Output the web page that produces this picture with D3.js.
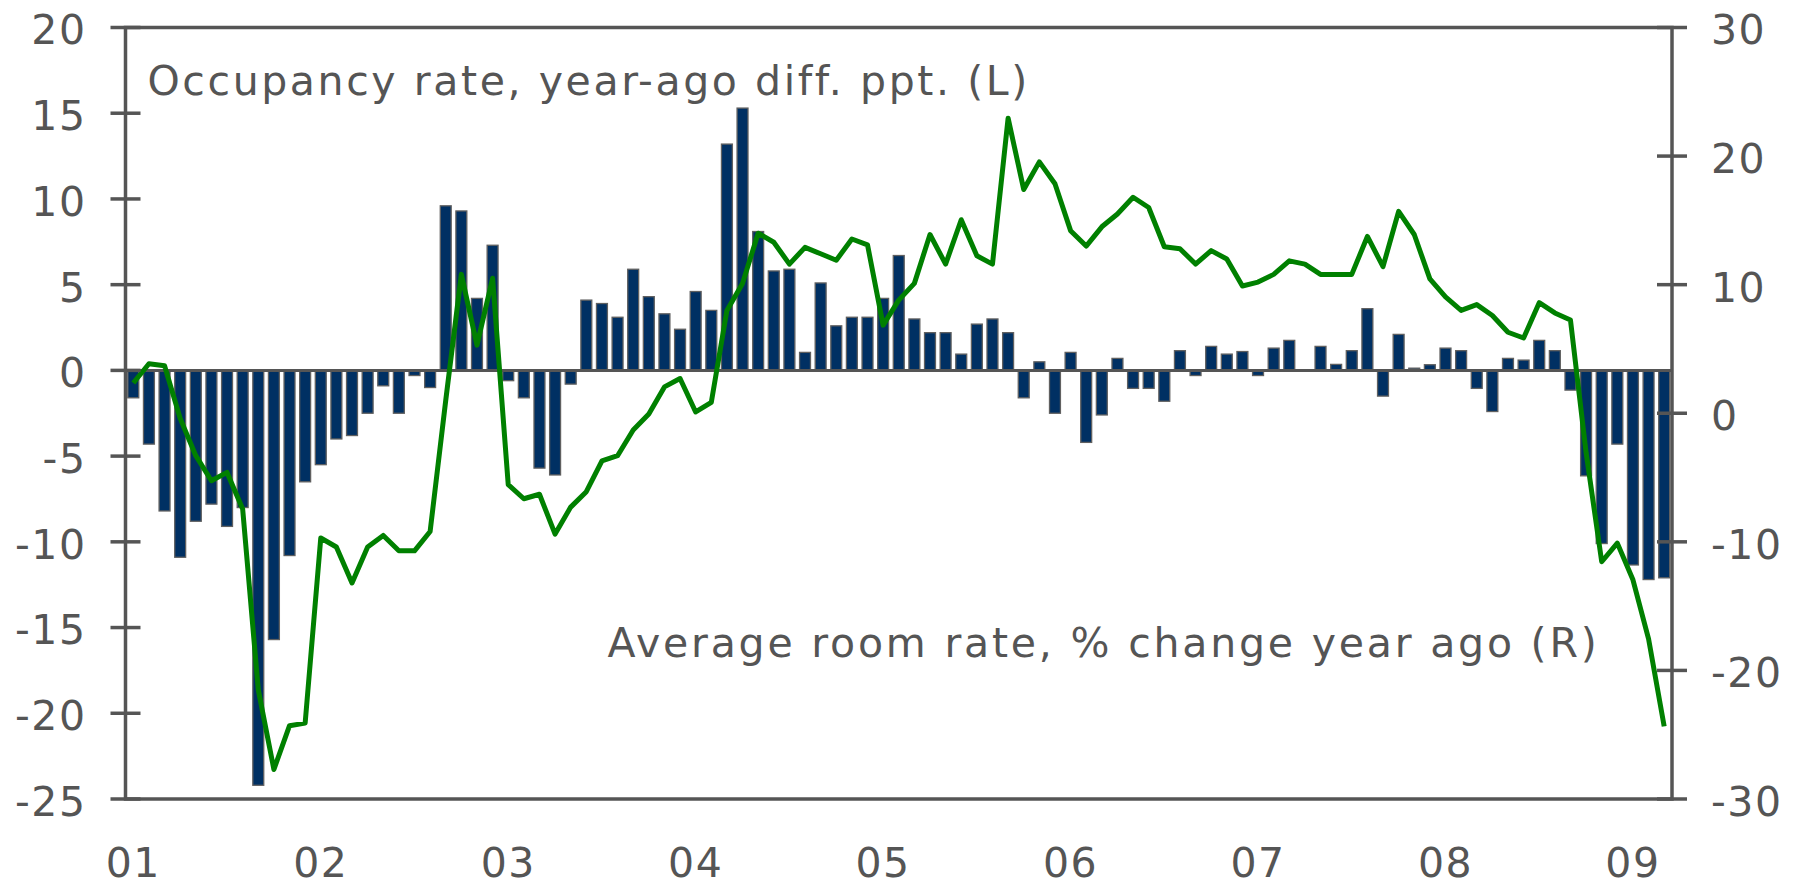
<!DOCTYPE html>
<html>
<head>
<meta charset="utf-8">
<script src="https://cdn.jsdelivr.net/npm/d3@7"></script>
<style>
  body { margin: 0; background: #fff; }
  text { font-family: "DejaVu Sans", Verdana, sans-serif; fill: #555; }
</style>
</head>
<body>
<div class="main-container"></div>
<script>
// months Jan 2001 .. Mar 2009
const months = d3.timeMonth.range(new Date(2001, 0, 1), new Date(2009, 3, 1));

// occupancy rate, year-ago diff, ppt (left axis)
const occupancy = [
  -1.6, -4.3, -8.2, -10.9, -8.8, -7.8, -9.1, -8.0, -24.2, -15.7, -10.8, -6.5,
  -5.5, -4.0, -3.8, -2.5, -0.9, -2.5, -0.3, -1.0, 9.6, 9.3, 4.2, 7.3,
  -0.6, -1.6, -5.7, -6.1, -0.8, 4.1, 3.9, 3.1, 5.9, 4.3, 3.3, 2.4,
  4.6, 3.5, 13.2, 15.3, 8.1, 5.8, 5.9, 1.05, 5.1, 2.6, 3.1, 3.1,
  4.2, 6.7, 3.0, 2.2, 2.2, 0.95, 2.7, 3.0, 2.2, -1.6, 0.5, -2.5,
  1.05, -4.2, -2.6, 0.7, -1.05, -1.05, -1.8, 1.15, -0.3, 1.4, 0.95, 1.1,
  -0.3, 1.3, 1.75, 0, 1.4, 0.35, 1.15, 3.6, -1.5, 2.1, 0.13, 0.33,
  1.3, 1.15, -1.05, -2.4, 0.7, 0.6, 1.75, 1.15, -1.15, -6.15, -10.1, -4.3,
  -11.35, -12.2, -12.1
];

// average room rate, % change year ago (right axis)
const roomRate = [
  2.35, 3.85, 3.7, -0.4, -3.3, -5.25, -4.6, -7.45, -21.5, -27.7, -24.3, -24.1,
  -9.7, -10.4, -13.2, -10.4, -9.5, -10.7, -10.7, -9.2, 1.0, 10.8, 5.3, 10.5,
  -5.55, -6.65, -6.3, -9.4, -7.3, -6.1, -3.7, -3.3, -1.3, -0.05, 2.05, 2.7,
  0.1, 0.85, 8.0, 10.1, 14.0, 13.3, 11.6, 12.9, 12.4, 11.9, 13.55, 13.1,
  6.85, 8.8, 10.1, 13.9, 11.6, 15.05, 12.25, 11.6, 22.95, 17.4, 19.55, 17.85,
  14.2, 13.0, 14.5, 15.5, 16.8, 16.0, 12.95, 12.8, 11.6, 12.65, 12.0, 9.9,
  10.2, 10.8, 11.85, 11.6, 10.8, 10.8, 10.8, 13.75, 11.4, 15.7, 13.9, 10.45,
  9.05, 8.0, 8.45, 7.6, 6.3, 5.85, 8.6, 7.8, 7.25, -3.05, -11.55, -10.1,
  -12.95, -17.55, -24.35
];

const yearLabels = ["01", "02", "03", "04", "05", "06", "07", "08", "09"];
const leftTicks = [20, 15, 10, 5, 0, -5, -10, -15, -20, -25];
const rightTicks = [30, 20, 10, 0, -10, -20, -30];

const titleL = "Occupancy rate, year-ago diff. ppt. (L)";
const titleR = "Average room rate, % change year ago (R)";

let margin = {top: 27.5, right: 133, bottom: 88, left: 125.5},
  width = 1805 - margin.left - margin.right,
  height = 887 - margin.top - margin.bottom;

const axisColor = "#555555";
const fontSize = "41px";

const svg = d3.select(".main-container")
  .append("svg")
  .attr("width", 1805)
  .attr("height", 887)
  .append("g")
  .attr("transform", "translate(" + margin.left + "," + margin.top + ")");

const data = months.map((m, i) => ({date: m, occ: occupancy[i], rate: roomRate[i]}));

let x = d3.scaleBand()
  .domain(d3.range(months.length))
  .range([0, width])
  .paddingInner(0.3)
  .paddingOuter(0.15);

let yL = d3.scaleLinear().domain([-25, 20]).range([height, 0]);
let yR = d3.scaleLinear().domain([-30, 30]).range([height, 0]);

// bars
svg.append("g")
  .selectAll("rect")
  .data(data)
  .join("rect")
  .attr("x", (d, i) => x(i))
  .attr("width", x.bandwidth())
  .attr("y", d => yL(Math.max(0, d.occ)))
  .attr("height", d => Math.abs(yL(d.occ) - yL(0)))
  .attr("fill", "#003063")
  .attr("stroke", "#606060")
  .attr("stroke-width", 1.3);

// zero line
svg.append("line")
  .attr("x1", 0)
  .attr("x2", width)
  .attr("y1", yL(0))
  .attr("y2", yL(0))
  .attr("stroke", axisColor)
  .attr("stroke-width", 3);

// room rate line
svg.append("path")
  .datum(data)
  .attr("fill", "none")
  .attr("stroke", "#008000")
  .attr("stroke-width", 5)
  .attr("stroke-linejoin", "round")
  .attr("d", d3.line()
    .x((d, i) => x(i) + x.bandwidth() / 2)
    .y(d => yR(d.rate))
  );

// frame
svg.append("rect")
  .attr("width", width)
  .attr("height", height)
  .attr("fill", "none")
  .attr("stroke", axisColor)
  .attr("stroke-width", 3.5);

// left axis (plain hyphen for negatives, as in the original)
const leftAxis = svg.append("g")
  .call(d3.axisLeft(yL).tickValues(leftTicks).tickSize(0).tickPadding(39)
    .tickFormat(d => String(d)));
leftAxis.select(".domain").remove();
leftAxis.selectAll("text")
  .style("font-size", fontSize)
  .style("letter-spacing", "1.5px")
  .attr("fill", "#555")
  .attr("dy", "0.4em");
svg.append("g")
  .selectAll("line")
  .data(leftTicks)
  .join("line")
  .attr("x1", -15)
  .attr("x2", 15)
  .attr("y1", d => yL(d))
  .attr("y2", d => yL(d))
  .attr("stroke", axisColor)
  .attr("stroke-width", 3.5);

// right axis
const rightAxis = svg.append("g")
  .attr("transform", "translate(" + width + ",0)")
  .call(d3.axisRight(yR).tickValues(rightTicks).tickSize(0).tickPadding(39)
    .tickFormat(d => String(d)));
rightAxis.select(".domain").remove();
rightAxis.selectAll("text")
  .style("font-size", fontSize)
  .style("letter-spacing", "1.5px")
  .attr("fill", "#555")
  .attr("dy", "0.4em");
svg.append("g")
  .selectAll("line")
  .data(rightTicks)
  .join("line")
  .attr("x1", width - 15)
  .attr("x2", width + 15)
  .attr("y1", d => yR(d))
  .attr("y2", d => yR(d))
  .attr("stroke", axisColor)
  .attr("stroke-width", 3.5);

// year labels under January bars
svg.append("g")
  .selectAll("text")
  .data(yearLabels)
  .join("text")
  .attr("x", (d, i) => x(i * 12) + x.bandwidth() / 2)
  .attr("y", height + 78)
  .attr("text-anchor", "middle")
  .style("font-size", fontSize)
  .style("letter-spacing", "1.5px")
  .text(d => d);

// series labels
svg.append("text")
  .attr("x", 22)
  .attr("y", 67)
  .style("font-size", fontSize)
  .style("letter-spacing", "2.6px")
  .text(titleL);

svg.append("text")
  .attr("x", 482)
  .attr("y", 629)
  .style("font-size", fontSize)
  .style("letter-spacing", "2.8px")
  .text(titleR);
</script>
</body>
</html>
